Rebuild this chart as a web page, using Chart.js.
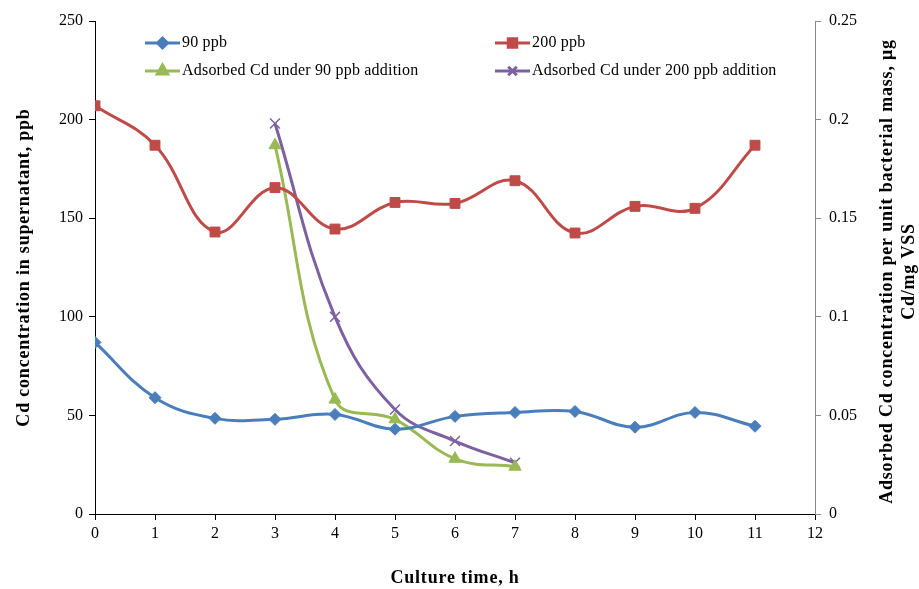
<!DOCTYPE html>
<html>
<head>
<meta charset="utf-8">
<script src="https://cdn.jsdelivr.net/npm/chart.js@4.4.1/dist/chart.umd.min.js"></script>
<style>
  html, body { margin: 0; padding: 0; background: #fff; }
  #wrap { width: 919px; height: 589px; position: relative; }
</style>
</head>
<body>
<div id="wrap"><canvas id="cdChart" width="919" height="589"></canvas></div>
<script>
// culture time, h
const hours = [0, 1, 2, 3, 4, 5, 6, 7, 8, 9, 10, 11];
const adsHours = [3, 4, 5, 6, 7];

// Cd in supernatant, ppb (left axis)
const cd90 = [87, 59, 48.5, 48, 50.5, 43, 49.5, 51.5, 52, 44, 51.5, 44.5];
const cd200 = [207, 187, 143, 165.5, 144.5, 158, 157.5, 169, 142.5, 156, 155, 187];

// adsorbed Cd per unit bacterial mass, ug Cd/mg VSS (right axis)
const ads90 = [0.187, 0.058, 0.048, 0.028, 0.024];
const ads200 = [0.198, 0.100, 0.053, 0.037, 0.026];

const leftTicks = [0, 50, 100, 150, 200, 250];
const rightTicks = [0, 0.05, 0.1, 0.15, 0.2, 0.25];

const serif = '"Liberation Serif", "Times New Roman", serif';

const toPoints = (xs, ys) => xs.map((x, i) => ({ x: x, y: ys[i] }));

// legend + axis titles drawn by hand so the layout matches the original
const decorations = {
    id: 'decorations',
    afterDraw(chart) {
        const ctx = chart.ctx;
        const area = chart.chartArea;
        ctx.save();

        // legend, two columns inside the plot
        const slots = [
            { x: 145, y: 43 }, { x: 495, y: 43 },
            { x: 145, y: 71 }, { x: 495, y: 71 }
        ];
        chart.data.datasets.forEach((ds, i) => {
            const s = slots[i];
            ctx.strokeStyle = ds.borderColor;
            ctx.lineWidth = 3;
            ctx.beginPath();
            ctx.moveTo(s.x, s.y);
            ctx.lineTo(s.x + 35, s.y);
            ctx.stroke();
            ctx.fillStyle = ds.borderColor;
            Chart.helpers.drawPoint(ctx, {
                pointStyle: ds.pointStyle,
                radius: ds.pointRadius - 1,
                rotation: 0,
                borderWidth: ds.pointStyle === 'crossRot' ? 1.5 : 1
            }, s.x + 17.5, s.y);
            ctx.fillStyle = '#000';
            ctx.font = '16px ' + serif;
            ctx.letterSpacing = '0.2px';
            ctx.textAlign = 'left';
            ctx.textBaseline = 'middle';
            ctx.fillText(ds.label, s.x + 37, s.y);
        });

        // axis titles
        const midY = (area.top + area.bottom) / 2;
        ctx.fillStyle = '#000';
        ctx.font = 'bold 18px ' + serif;
        ctx.letterSpacing = '0.8px';
        ctx.textAlign = 'center';
        ctx.textBaseline = 'middle';

        ctx.save();
        ctx.translate(24, midY);
        ctx.rotate(-Math.PI / 2);
        ctx.fillText('Cd concentration in supernatant, ppb', 0, 0);
        ctx.restore();

        ctx.save();
        ctx.translate(887, midY + 4);
        ctx.rotate(-Math.PI / 2);
        ctx.fillText('Adsorbed Cd concentration per unit bacterial mass, \u03bcg', 0, 0);
        ctx.fillText('Cd/mg VSS', 0, 22);
        ctx.restore();

        ctx.fillText('Culture time, h', (area.left + area.right) / 2, 578);
        ctx.restore();
    }
};

new Chart(document.getElementById('cdChart'), {
    type: 'line',
    data: {
        datasets: [
            {
                label: '90 ppb',
                data: toPoints(hours, cd90),
                yAxisID: 'y',
                borderColor: '#4a7ebb',
                backgroundColor: '#4a7ebb',
                pointStyle: 'rectRot',
                pointRadius: 6
            },
            {
                label: '200 ppb',
                data: toPoints(hours, cd200),
                yAxisID: 'y',
                borderColor: '#be4b48',
                backgroundColor: '#be4b48',
                pointStyle: 'rect',
                pointRadius: 7
            },
            {
                label: 'Adsorbed Cd under 90 ppb addition',
                data: toPoints(adsHours, ads90),
                yAxisID: 'y1',
                borderColor: '#98b954',
                backgroundColor: '#98b954',
                pointStyle: 'triangle',
                pointRadius: 7
            },
            {
                label: 'Adsorbed Cd under 200 ppb addition',
                data: toPoints(adsHours, ads200),
                yAxisID: 'y1',
                borderColor: '#7d60a0',
                backgroundColor: '#7d60a0',
                pointStyle: 'crossRot',
                pointRadius: 7,
                pointBorderWidth: 1.5
            }
        ]
    },
    options: {
        responsive: false,
        animation: false,
        layout: { padding: { top: 21, left: 0, right: 0, bottom: 0 } },
        elements: {
            line: { borderWidth: 3, tension: 0.4, cubicInterpolationMode: 'default' },
            point: { borderWidth: 1 }
        },
        plugins: {
            legend: { display: false },
            tooltip: { enabled: false }
        },
        scales: {
            x: {
                type: 'linear',
                min: 0,
                max: 12,
                ticks: {
                    stepSize: 1,
                    color: '#000',
                    font: { family: serif, size: 16 },
                    padding: 4,
                    maxRotation: 0
                },
                grid: { drawOnChartArea: false, drawTicks: true, tickLength: 6, color: '#000' },
                border: { color: '#000', width: 1 },
                afterFit(scale) { scale.height = 75; }
            },
            y: {
                position: 'left',
                min: 0,
                max: 250,
                afterBuildTicks(scale) { scale.ticks = leftTicks.map(v => ({ value: v })); },
                ticks: {
                    color: '#000',
                    font: { family: serif, size: 16 },
                    padding: 6
                },
                grid: { drawOnChartArea: false, drawTicks: true, tickLength: 6, color: '#000' },
                border: { color: '#000', width: 1 },
                afterFit(scale) { scale.width = 95; }
            },
            y1: {
                position: 'right',
                min: 0,
                max: 0.25,
                afterBuildTicks(scale) { scale.ticks = rightTicks.map(v => ({ value: v })); },
                ticks: {
                    color: '#000',
                    font: { family: serif, size: 16 },
                    padding: 8,
                    callback: v => String(v)
                },
                grid: { drawOnChartArea: false, drawTicks: true, tickLength: 6, color: '#888' },
                border: { color: '#888', width: 1 },
                afterFit(scale) { scale.width = 104; }
            }
        }
    },
    plugins: [decorations]
});
</script>
</body>
</html>
